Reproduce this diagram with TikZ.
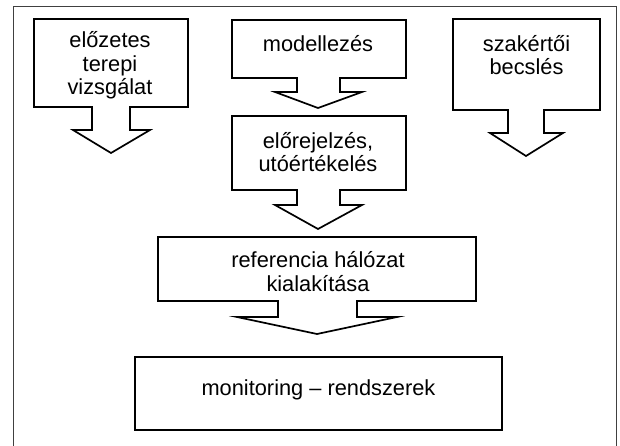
\documentclass[tikz,border=0pt]{standalone}
\usepackage{fontspec}
\setmainfont{Liberation Sans}
\begin{document}
\begin{tikzpicture}[x=1pt,y=-1pt,
  callout/.style={draw=black,line width=1.7pt,line join=miter,fill=white},
  frameline/.style={draw=black!75,line width=0.9pt},
  lbl/.style={anchor=base,inner sep=0pt,font=\fontsize{21.8}{23.6}\selectfont}]
\useasboundingbox (0,0) rectangle (620,446);
% outer frame (open at the bottom)
\coordinate (fbl) at (13,446);
\coordinate (ftl) at (13,6);
\coordinate (ftr) at (616,6);
\coordinate (fbr) at (616,446);
\draw[frameline] (fbl) -- (ftl) -- (ftr) -- (fbr);
% box 1
\draw[callout] (34,19) -- (188,19) -- (188,107) -- (130,107) -- (130,130) -- (150,130)
  -- (111,153) -- (73,130) -- (92,130) -- (92,107) -- (34,107) -- cycle;
% box 2
\draw[callout] (232,20) -- (406,20) -- (406,78) -- (340,78) -- (340,92) -- (362,92)
  -- (318,108) -- (275,92) -- (297,92) -- (297,78) -- (232,78) -- cycle;
% box 3
\draw[callout] (232,116) -- (406,116) -- (406,190) -- (340,190) -- (340,205) -- (362,205)
  -- (318,229) -- (275,205) -- (297,205) -- (297,190) -- (232,190) -- cycle;
% box 4
\draw[callout] (453,19) -- (600,19) -- (600,110) -- (544,110) -- (544,133) -- (563,133)
  -- (526,156) -- (490,133) -- (508,133) -- (508,110) -- (453,110) -- cycle;
% box 5
\draw[callout] (158,237) -- (476,237) -- (476,301) -- (357,301) -- (357,317) -- (397,317)
  -- (317,334) -- (237,317) -- (278,317) -- (278,301) -- (158,301) -- cycle;
% box 6
\draw[callout] (135,357) rectangle (502,430);
% texts
\node[lbl] (t1) at (110,95) {\begin{tabular}[b]{@{}c@{}}előzetes\\terepi\\vizsgálat\end{tabular}};
\node[lbl] (t2) at (318,52) {modellezés};
\node[lbl] (t3) at (318,172) {\begin{tabular}[b]{@{}c@{}}előrejelzés,\\utóértékelés\end{tabular}};
\node[lbl] (t4) at (526.5,75) {\begin{tabular}[b]{@{}c@{}}szakértői\\becslés\end{tabular}};
\node[lbl] (t5) at (318,291) {\begin{tabular}[b]{@{}c@{}}referencia hálózat\\kialakítása\end{tabular}};
\node[lbl] (t6) at (318.5,395) {monitoring – rendszerek};
\end{tikzpicture}
\end{document}
